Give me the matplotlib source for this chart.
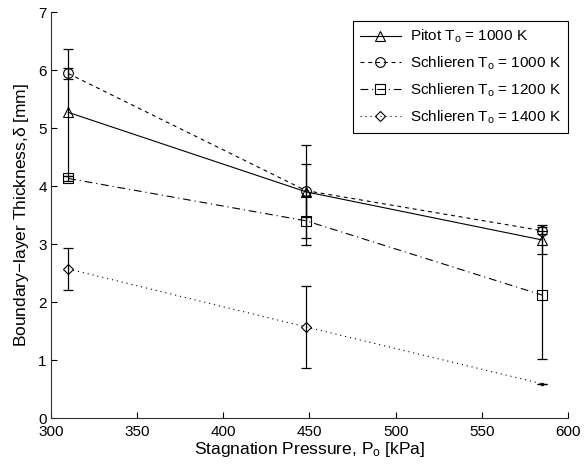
import matplotlib
matplotlib.use("Agg")
import matplotlib.pyplot as plt

plt.rcParams['font.family'] = ['Liberation Sans', 'DejaVu Sans']
plt.rcParams['mathtext.fontset'] = 'custom'
plt.rcParams['mathtext.rm'] = 'Liberation Sans'
plt.rcParams['mathtext.it'] = 'Liberation Sans'

# Stagnation pressure, kPa
pressure = [310, 448, 585]

# Boundary-layer thickness (mm) and uncertainty (mm)
pitot_1000 = [5.27, 3.90, 3.07]
pitot_1000_err = [1.10, 0.80, 0.25]
schl_1000 = [5.94, 3.92, 3.23]
schl_1000_err = [0.10, 0.46, 0.06]
schl_1200 = [4.13, 3.40, 2.12]
schl_1200_err = [0.05, 0.42, 1.10]
schl_1400 = [2.57, 1.57, 0.59]
schl_1400_err = [0.36, 0.70, 0.0]

labels = [r'Pitot T$_\mathregular{o}$ = 1000 K',
          r'Schlieren T$_\mathregular{o}$ = 1000 K',
          r'Schlieren T$_\mathregular{o}$ = 1200 K',
          r'Schlieren T$_\mathregular{o}$ = 1400 K']

fig = plt.figure(figsize=(5.84, 4.69), dpi=100)
ax = fig.add_axes([0.0873, 0.1087, 0.8853, 0.8657])

series = [
    (pitot_1000, pitot_1000_err, '-', '^', [0, 1, 2]),
    (schl_1000, schl_1000_err, (0, (3.5, 3.5)), 'o', [0, 1, 2]),
    (schl_1200, schl_1200_err, (0, (7, 3.5, 1, 3.5)), 's', [0, 1, 2]),
    (schl_1400, schl_1400_err, (0, (1, 3.5)), 'D', [0, 1]),
]

for (vals, errs, ls, mk, mev), lab in zip(series, labels):
    ax.errorbar(pressure, vals, yerr=errs, fmt='none', ecolor='black',
                elinewidth=0.9, capsize=3.6, capthick=0.9, zorder=2)
    ms = 5.5 if mk == 'D' else (7 if mk != 's' else 6.5)
    ax.plot(pressure, vals, linestyle=ls, color='black', linewidth=0.8,
            marker=mk, markersize=ms, markerfacecolor='none',
            markeredgecolor='black', markeredgewidth=0.8,
            markevery=mev, label=lab, zorder=3)

# final 1400 K point is shown as a plain dot
ax.plot(pressure[2], schl_1400[2], marker='.', color='black',
        markersize=3, linestyle='none', zorder=3)

ax.set_xlim(300, 600)
ax.set_ylim(0, 7)
ax.set_xticks([300, 350, 400, 450, 500, 550, 600])
ax.set_yticks(range(0, 8))

for side in ('top', 'right'):
    ax.spines[side].set_visible(False)
for side in ('left', 'bottom'):
    ax.spines[side].set_linewidth(0.8)
    ax.spines[side].set_color('#333333')

ax.tick_params(direction='in', length=4, width=0.8, labelsize=11,
               colors='black')
ax.tick_params(axis='x', pad=5)
ax.tick_params(axis='y', pad=3)

ax.set_xlabel(r'Stagnation Pressure, P$_\mathregular{o}$ [kPa]', fontsize=12.5, labelpad=1)
ax.set_ylabel(r'Boundary$-$layer Thickness,$\mathregular{\delta}$ [mm]', fontsize=12.5, labelpad=5)

leg = ax.legend(loc='upper right', bbox_to_anchor=(1.0, 1 - 9 / 406),
                fontsize=11, frameon=True, fancybox=False,
                edgecolor='black', framealpha=1, borderaxespad=0,
                handlelength=2.7, handletextpad=0.6, labelspacing=0.62,
                borderpad=0.45)
leg.get_frame().set_linewidth(0.8)

fig.savefig('out.png', dpi=100)
